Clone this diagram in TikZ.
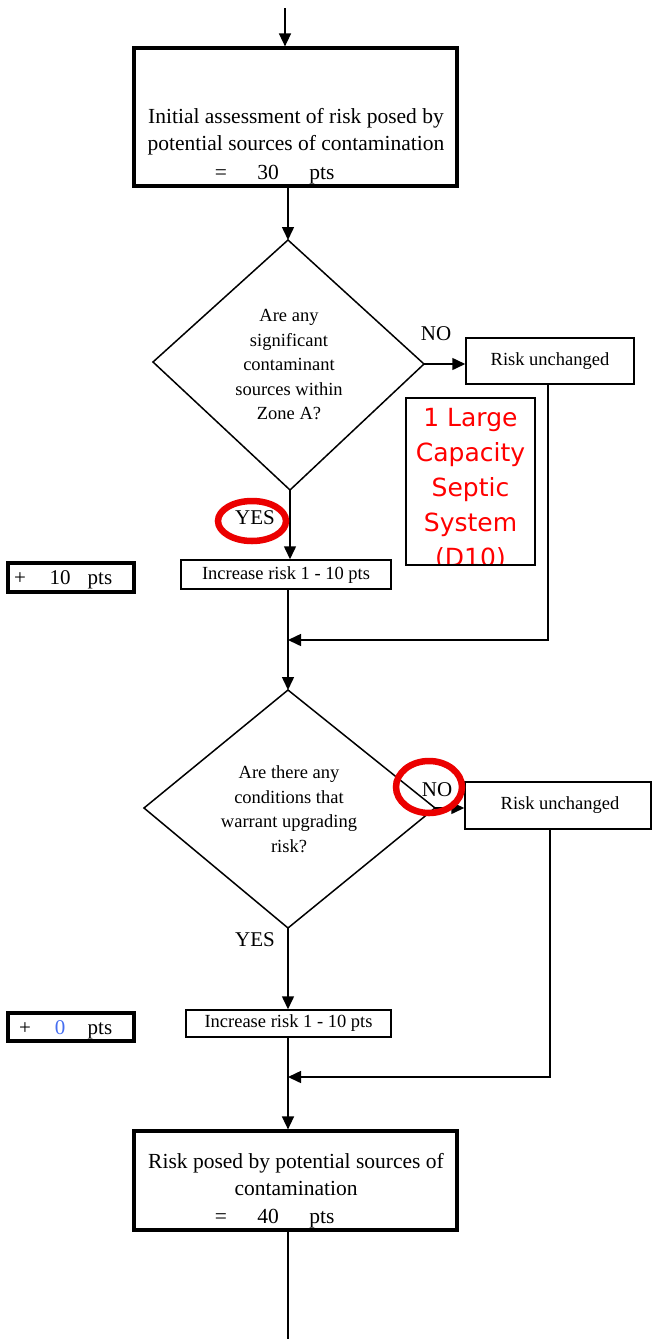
\documentclass[tikz,border=0pt]{standalone}
\usepackage{fontspec}
\setmainfont{Liberation Serif}
\newfontfamily\notefont{DejaVu Sans}
\usetikzlibrary{arrows.meta}
\definecolor{scoreblue}{RGB}{70,110,240}
\definecolor{markred}{RGB}{235,0,0}
\begin{document}
\begin{tikzpicture}[x=1pt,y=-1pt,
  thin line/.style={line width=1.5pt},
  arr/.style={thin line,-{Triangle[length=13pt,width=12pt]}},
  bigbox/.style={draw,line width=3.2pt,rectangle,inner sep=0pt},
  smallbox/.style={draw,thin line,rectangle,inner sep=0pt},
  scorebox/.style={draw,line width=3.2pt,rectangle,inner sep=0pt},
  bigtxt/.style={font=\fontsize{21.5}{27}\selectfont,align=center,inner sep=0pt},
  word/.style={font=\fontsize{21.5}{27}\selectfont,inner sep=0pt,anchor=base},
  qtxt/.style={font=\fontsize{18.5}{24.5}\selectfont,align=center,inner sep=0pt},
  boxtxt/.style={font=\fontsize{18.5}{22}\selectfont,inner sep=0pt},
  lbl/.style={font=\fontsize{21}{24}\selectfont,inner sep=0pt,anchor=base},
  ring/.style={draw=markred,line width=6.5pt}]
\useasboundingbox (0,0) rectangle (652,1339);

% ---- boxes ----
\node[bigbox,minimum width=323pt,minimum height=138pt] (top) at (295.5,117) {};
\node[smallbox,minimum width=168pt,minimum height=46pt] (ru1) at (550,361) {};
\node[smallbox,minimum width=129pt,minimum height=167pt] (note) at (470.5,481.5) {};
\node[smallbox,minimum width=210pt,minimum height=29pt] (inc1) at (286,574.5) {};
\node[scorebox,minimum width=126pt,minimum height=29pt] (plus1) at (71,577.5) {};
\node[smallbox,minimum width=186pt,minimum height=47pt] (ru2) at (558,805.5) {};
\node[smallbox,minimum width=205pt,minimum height=27pt] (inc2) at (288.5,1023.5) {};
\node[scorebox,minimum width=126pt,minimum height=28pt] (plus2) at (71,1027) {};
\node[bigbox,minimum width=323pt,minimum height=99pt] (fin) at (295.5,1180.5) {};

% ---- decision diamonds ----
\coordinate (d1t) at (288,240);
\coordinate (d1r) at (424,364);
\coordinate (d1b) at (290,490);
\coordinate (d1l) at (153,362);
\draw[thin line,line join=miter] (d1t) -- (d1r) -- (d1b) -- (d1l) -- cycle;
\coordinate (d2t) at (288,690);
\coordinate (d2r) at (435,808);
\coordinate (d2b) at (288,928);
\coordinate (d2l) at (144,808);
\draw[thin line,line join=miter] (d2t) -- (d2r) -- (d2b) -- (d2l) -- cycle;

% ---- texts ----
\node[bigtxt] (toptxt) at (296,131.5) {Initial assessment of risk posed by\\potential sources of contamination};
\node[word] (topeq) at (221,179) {=};
\node[word] (topnum) at (268,179) {30};
\node[word] (toppts) at (322,179) {pts};

\node[qtxt] (q1) at (289,365) {Are any\\significant\\contaminant\\sources within\\Zone A?};
\node[qtxt] (q2) at (289,809) {Are there any\\conditions that\\warrant upgrading\\risk?};

\node[boxtxt] (ru1txt) at (550,361.5) {Risk unchanged};
\node[boxtxt] (ru2txt) at (560,805.5) {Risk unchanged};
\node[boxtxt] (inc1txt) at (286,575.5) {Increase risk 1 - 10 pts};
\node[boxtxt] (inc2txt) at (288.5,1023.5) {Increase risk 1 - 10 pts};

\node[lbl] (p1a) at (20,584) {+};
\node[lbl] (p1b) at (60,584) {10};
\node[lbl] (p1c) at (100,584) {pts};
\node[lbl] (p2a) at (25,1034) {+};
\node[lbl,text=scoreblue] (p2b) at (60,1034) {0};
\node[lbl] (p2c) at (100,1034) {pts};

\node[bigtxt] (fintxt) at (296,1174.5) {Risk posed by potential sources of\\contamination};
\node[word] (fineq) at (221,1223) {=};
\node[word] (finnum) at (268,1223) {40};
\node[word] (finpts) at (322,1223) {pts};

% note text, cut off by its frame
\begin{scope}
  \clip (note.north west) rectangle (note.south east);
  \node[font=\notefont\fontsize{25}{35}\selectfont,text=red,align=center,inner sep=0pt,anchor=north]
    (notetxt) at (470.5,408) {1 Large\\Capacity\\Septic\\System\\(D10)};
\end{scope}
\node[smallbox,minimum width=129pt,minimum height=167pt] at (note) {};

% ---- branch labels ----
\node[lbl] (no1) at (436,340) {NO};
\node[lbl] (yes1) at (255,524) {YES};
\node[lbl] (no2) at (437,796) {NO};
\node[lbl] (yes2) at (255,946) {YES};

% ---- connectors ----
\coordinate (entry) at (285,8);
\coordinate (m1) at (288,640);
\coordinate (c1) at (548,640);
\coordinate (m2) at (288,1077);
\coordinate (c2) at (550,1077);
\coordinate (exit) at (288,1339);

\draw[arr] (entry) -- (entry |- top.north);
\draw[arr] (top.south -| d1t) -- (d1t);
\draw[arr] (d1r) -- (d1r -| ru1.west);
\draw[arr] (d1b) -- (d1b |- inc1.north);
\draw[thin line] (inc1.south -| d2t) -- (d2t |- m1);
\draw[arr] (d2t |- m1) -- (d2t);
\draw[arr] (ru1.south -| c1) -- (c1) -- (m1);
\draw[arr] (d2r) -- (d2r -| ru2.west);
\draw[arr] (d2b) -- (d2b |- inc2.north);
\draw[arr] (inc2.south -| m2) -- (m2 |- fin.north);
\draw[arr] (ru2.south -| c2) -- (c2) -- (m2);
\draw[thin line] (fin.south -| exit) -- (exit);

% ---- highlight rings ----
\draw[ring] (252,521) ellipse [x radius=34, y radius=20];
\draw[ring] (429,787) ellipse [x radius=33, y radius=26];
\end{tikzpicture}
\end{document}
